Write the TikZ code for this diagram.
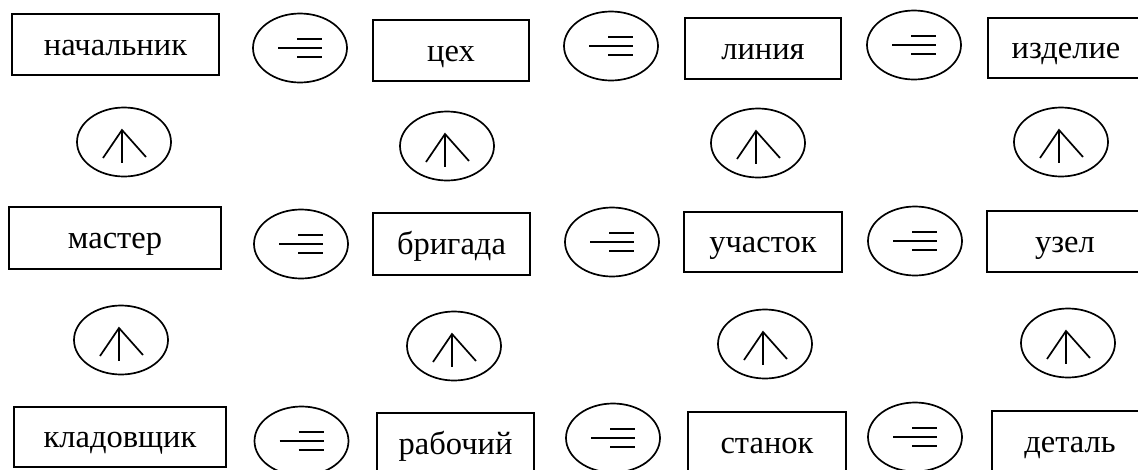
\documentclass[tikz,border=0pt]{standalone}
\usepackage{fontspec}
\setmainfont{Liberation Serif}
\usetikzlibrary{shapes.geometric}
\begin{document}
\begin{tikzpicture}[x=1pt,y=-1pt,line width=1.7pt,
  lbl/.style={draw,rectangle,inner sep=0pt,font=\fontsize{32.5}{38}\selectfont,text height=26pt,text depth=5pt},
  oval/.style={draw,ellipse,inner sep=0pt,minimum width=94pt,minimum height=69pt},
  eqsym/.style={oval,path picture={
      \coordinate (pc) at (path picture bounding box.center);
      \draw[line width=1.8pt] ([shift={(-22pt,0pt)}]pc) -- ++(44pt,0pt);
      \draw[line width=1.8pt] ([shift={(-3pt,9pt)}]pc) -- ++(25pt,0pt);
      \draw[line width=1.8pt] ([shift={(-3pt,-9pt)}]pc) -- ++(25pt,0pt);
  }},
  upsym/.style={oval,path picture={
      \coordinate (pc) at (path picture bounding box.center);
      \draw[line width=1.7pt] ([shift={(-2pt,12pt)}]pc) -- ([shift={(-2pt,-21pt)}]pc);
      \draw[line width=1.7pt] ([shift={(-21pt,-16pt)}]pc) -- ([shift={(-2pt,12pt)}]pc) -- ([shift={(22pt,-15pt)}]pc);
  }}]
\useasboundingbox (0,0) rectangle (1138,469);
\clip (0,0) rectangle (1138,469);
% row 1
\node[lbl,minimum width=207pt,minimum height=61pt] (nach) at (115.5,44.5) {начальник};
\node[lbl,minimum width=156pt,minimum height=61pt] (tseh) at (451,50.5) {цех};
\node[lbl,minimum width=156pt,minimum height=61pt] (liniya) at (763,48.5) {линия};
\node[lbl,minimum width=156pt,minimum height=60pt] (izd) at (1066,48) {изделие};
\node[eqsym] (e11) at (300,48) {};
\node[eqsym] (e12) at (611,46) {};
\node[eqsym] (e13) at (914,45) {};
% up symbols 1
\node[upsym] (u11) at (124,142) {};
\node[upsym] (u12) at (447,146) {};
\node[upsym] (u13) at (758,143) {};
\node[upsym] (u14) at (1061,142) {};
% row 2
\node[lbl,minimum width=212pt,minimum height=62pt] (master) at (115,238) {мастер};
\node[lbl,minimum width=157pt,minimum height=62pt] (brig) at (451.5,244) {бригада};
\node[lbl,minimum width=158pt,minimum height=60pt] (uch) at (763,242) {участок};
\node[lbl,minimum width=156pt,minimum height=61pt] (uzel) at (1065,241.5) {узел};
\node[eqsym] (e21) at (301,244) {};
\node[eqsym] (e22) at (612,242) {};
\node[eqsym] (e23) at (915,241) {};
% up symbols 2
\node[upsym] (u21) at (121,340) {};
\node[upsym] (u22) at (454,346) {};
\node[upsym] (u23) at (765,344) {};
\node[upsym] (u24) at (1068,343) {};
% row 3
\node[lbl,minimum width=212pt,minimum height=60pt] (klad) at (120,437) {кладовщик};
\node[lbl,minimum width=157pt,minimum height=61pt] (rab) at (455.5,443.5) {рабочий};
\node[lbl,minimum width=158pt,minimum height=61pt] (stan) at (767,442.5) {станок};
\node[lbl,minimum width=156pt,minimum height=61pt] (det) at (1070,441.5) {деталь};
\node[eqsym] (e31) at (301.5,441) {};
\node[eqsym] (e32) at (613,438) {};
\node[eqsym] (e33) at (915,437) {};
\end{tikzpicture}
\end{document}
